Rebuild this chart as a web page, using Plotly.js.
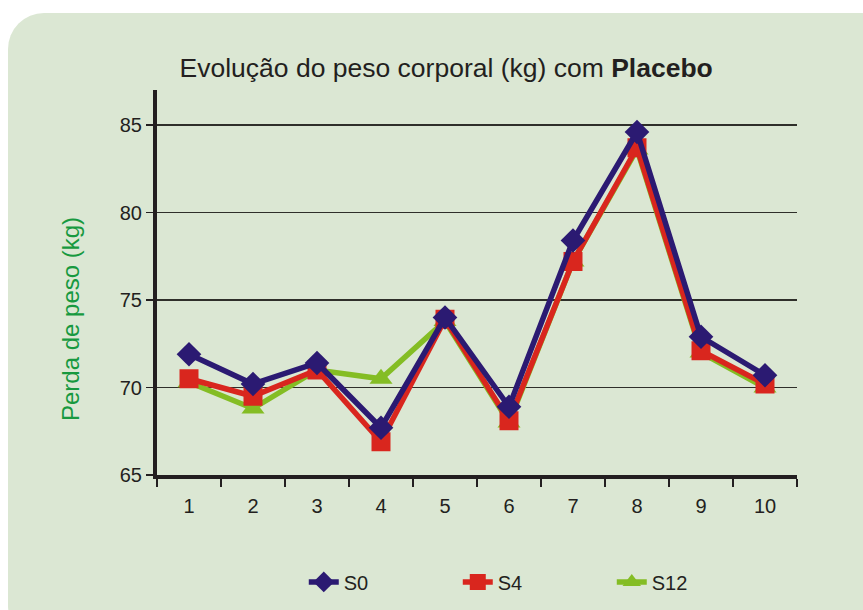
<!DOCTYPE html>
<html>
<head>
<meta charset="utf-8">
<script src="https://cdn.plot.ly/plotly-3.0.1.min.js"></script>
<style>
  html, body { margin: 0; padding: 0; background: #ffffff; width: 863px; height: 610px; overflow: hidden; }
  #bg { position: absolute; left: 8px; top: 13px; width: 890px; height: 630px; background: #dbe7d3; border-radius: 36px; }
  #chart { position: absolute; left: 0; top: 0; width: 863px; height: 610px; }
</style>
</head>
<body>
<div id="bg"></div>
<div id="chart"></div>
<script>
const categories = ["1", "2", "3", "4", "5", "6", "7", "8", "9", "10"];
const s0 = [71.9, 70.2, 71.4, 67.7, 74.0, 68.9, 78.4, 84.6, 72.9, 70.7];
const s4 = [70.5, 69.5, 71.0, 66.9, 73.9, 68.1, 77.2, 83.7, 72.1, 70.2];
const s12 = [70.3, 68.8, 71.0, 70.5, 73.8, 68.0, 77.2, 83.6, 72.0, 70.0];
const yTicks = [65, 70, 75, 80, 85];

const traces = [
  { x: categories, y: s12, name: "S12", type: "scatter", mode: "lines+markers",
    line: { color: "#84bd24", width: 5.5 },
    marker: { symbol: "triangle-up", size: 20, color: "#84bd24" }, legendrank: 3 },
  { x: categories, y: s4, name: "S4", type: "scatter", mode: "lines+markers",
    line: { color: "#d9261e", width: 5.5 },
    marker: { symbol: "square", size: 19, color: "#d9261e" }, legendrank: 2 },
  { x: categories, y: s0, name: "S0", type: "scatter", mode: "lines+markers",
    line: { color: "#2b1a72", width: 5.5 },
    marker: { symbol: "diamond", size: 19, color: "#2b1a72" }, legendrank: 1 }
];

const layout = {
  width: 863, height: 610,
  paper_bgcolor: "rgba(0,0,0,0)",
  plot_bgcolor: "rgba(0,0,0,0)",
  margin: { l: 157, r: 66, t: 90, b: 135 },
  font: { family: "Liberation Sans, Arial, sans-serif", color: "#231f20", size: 20 },
  title: {
    text: "Evolução do peso corporal (kg) com <b>Placebo</b>",
    font: { size: 26.5, color: "#231f20" },
    x: 0.517, xref: "container", xanchor: "center",
    y: 0.889, yref: "container", yanchor: "middle"
  },
  xaxis: {
    type: "category",
    range: [-0.5, 9.5],
    tickson: "boundaries",
    ticks: "outside", ticklen: 8, tickwidth: 1.5, tickcolor: "#231f20",
    showline: true, linecolor: "#231f20", linewidth: 4,
    showgrid: false, zeroline: false,
    ticklabelstandoff: 10,
    tickfont: { size: 20, color: "#231f20" }
  },
  yaxis: {
    range: [65, 87],
    tickvals: yTicks,
    ticks: "outside", ticklen: 7, tickwidth: 1.5, tickcolor: "#231f20",
    showline: true, linecolor: "#231f20", linewidth: 4,
    showgrid: true, gridcolor: "#2f2f2a", gridwidth: 1.3,
    zeroline: false,
    tickfont: { size: 20, color: "#231f20" }
  },
  annotations: [{
    text: "Perda de peso (kg)",
    textangle: -90,
    xref: "paper", yref: "paper",
    x: -0.136, y: 0.405,
    xanchor: "center", yanchor: "middle",
    showarrow: false,
    font: { size: 24, color: "#17993f" }
  }],
  showlegend: true,
  legend: {
    orientation: "h",
    xref: "container", x: 0.352, xanchor: "left",
    yref: "container", y: 0.046, yanchor: "middle",
    font: { size: 20, color: "#231f20" },
    entrywidth: 109,
    bgcolor: "rgba(0,0,0,0)"
  }
};

Plotly.newPlot("chart", traces, layout, { displayModeBar: false, staticPlot: true });
</script>
</body>
</html>
